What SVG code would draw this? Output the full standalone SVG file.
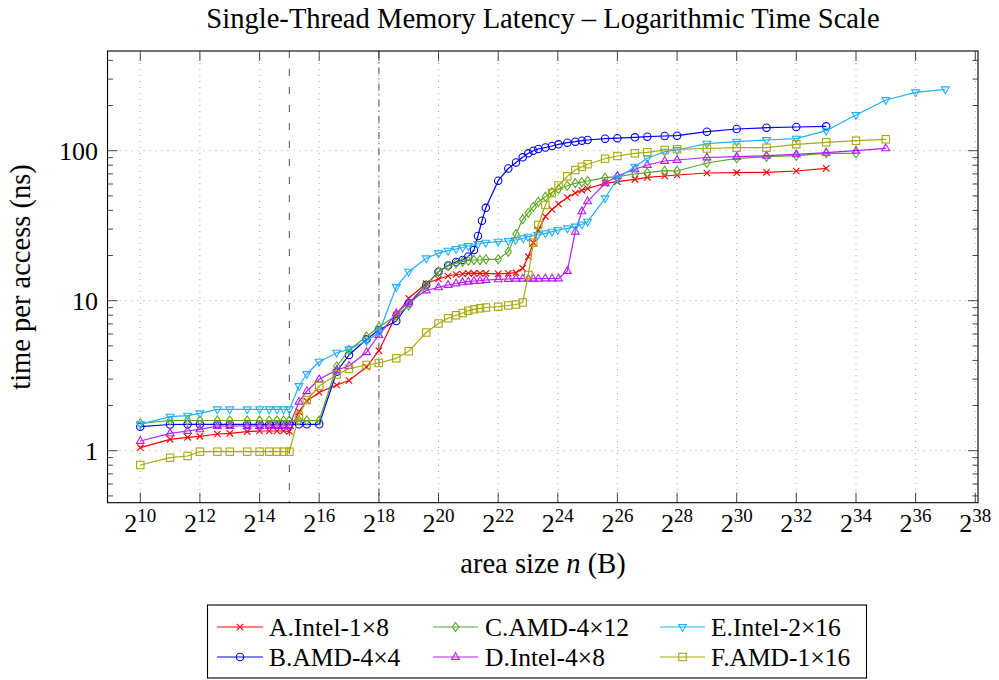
<svg xmlns="http://www.w3.org/2000/svg" width="999" height="680" viewBox="0 0 999 680" font-family="'Liberation Serif', 'Times New Roman', serif">
  <style>
    text { font-family: "Liberation Serif", "Times New Roman", serif; fill: #000; }
    .title { font-size: 28.6px; }
    .axlbl { font-size: 28.5px; }
    .leg { font-size: 25.5px; }
    .tick { font-size: 26px; }
    .grid { stroke: #9a9a9a; stroke-width: 0.9; stroke-dasharray: 1 5; fill: none; }
    .tk { stroke: #333; stroke-width: 0.9; fill: none; }
    .frame { stroke: #000; stroke-width: 1.1; fill: none; }
    .vdash { stroke: #6e6e6e; stroke-width: 1.2; stroke-dasharray: 7 11; fill: none; }
    .vdashdot { stroke: #6e6e6e; stroke-width: 1.2; stroke-dasharray: 7 4 1.2 4; fill: none; }
    .s { fill: none; stroke-width: 1.2; stroke-linejoin: round; }
    .cA { stroke: #ff0000; } .cB { stroke: #0000ff; } .cC { stroke: #58a81e; }
    .cD { stroke: #b41eff; } .cE { stroke: #1fb0ff; } .cF { stroke: #aaa80a; }
    .mk { fill: none; stroke-width: 1.1; }
    #sA { marker-start: url(#mA); marker-mid: url(#mA); marker-end: url(#mA); }
    #sB { marker-start: url(#mB); marker-mid: url(#mB); marker-end: url(#mB); }
    #sC { marker-start: url(#mC); marker-mid: url(#mC); marker-end: url(#mC); }
    #sD { marker-start: url(#mD); marker-mid: url(#mD); marker-end: url(#mD); }
    #sE { marker-start: url(#mE); marker-mid: url(#mE); marker-end: url(#mE); }
    #sF { marker-start: url(#mF); marker-mid: url(#mF); marker-end: url(#mF); }
  </style>
  <defs>
    <marker id="mA" markerUnits="userSpaceOnUse" markerWidth="10" markerHeight="10" refX="0" refY="0" orient="0" overflow="visible">
      <path class="mk" stroke="#ff0000" d="M-3.2,-3.2L3.2,3.2M-3.2,3.2L3.2,-3.2"/>
    </marker>
    <marker id="mB" markerUnits="userSpaceOnUse" markerWidth="10" markerHeight="10" refX="0" refY="0" orient="0" overflow="visible">
      <circle class="mk" stroke="#0000ff" r="3.7"/>
    </marker>
    <marker id="mC" markerUnits="userSpaceOnUse" markerWidth="10" markerHeight="10" refX="0" refY="0" orient="0" overflow="visible">
      <path class="mk" stroke="#58a81e" d="M0,-4.5L3.2,0L0,4.5L-3.2,0Z"/>
    </marker>
    <marker id="mD" markerUnits="userSpaceOnUse" markerWidth="10" markerHeight="10" refX="0" refY="0" orient="0" overflow="visible">
      <path class="mk" stroke="#b41eff" d="M0,-4.4L3.9,2.4L-3.9,2.4Z"/>
    </marker>
    <marker id="mE" markerUnits="userSpaceOnUse" markerWidth="10" markerHeight="10" refX="0" refY="0" orient="0" overflow="visible">
      <path class="mk" stroke="#1fb0ff" d="M0,4.4L3.9,-2.4L-3.9,-2.4Z"/>
    </marker>
    <marker id="mF" markerUnits="userSpaceOnUse" markerWidth="10" markerHeight="10" refX="0" refY="0" orient="0" overflow="visible">
      <rect class="mk" stroke="#aaa80a" x="-3.7" y="-3.7" width="7.4" height="7.4"/>
    </marker>
  </defs>

  <rect width="999" height="680" fill="#fff"/>

  <!-- title -->
  <text id="title" class="title" x="543" y="28" text-anchor="middle">Single-Thread Memory Latency – Logarithmic Time Scale</text>

  <!-- grid -->
  <g id="grid">
    <path class="grid" d="M140.3,51V502.7M199.9,51V502.7M259.6,51V502.7M319.2,51V502.7M378.9,51V502.7M438.5,51V502.7M498.2,51V502.7M557.8,51V502.7M617.4,51V502.7M677.1,51V502.7M736.7,51V502.7M796.3,51V502.7M856,51V502.7M915.6,51V502.7M975.3,51V502.7"/>
    <path class="grid" d="M107.5,450.7H978M107.5,300.7H978M107.5,150.7H978"/>
  </g>

  <!-- cache boundaries -->
  <g id="boundaries">
    <line class="vdash" x1="289.4" y1="51" x2="289.4" y2="502.7"/>
    <line class="vdashdot" x1="378.9" y1="51" x2="378.9" y2="502.7"/>
  </g>

  <!-- axis frame and ticks -->
  <g id="axes">
    <rect class="frame" x="107.5" y="51" width="870.5" height="451.7"/>
    <path class="tk" d="M140.3,502.7v-10M199.9,502.7v-10M259.6,502.7v-10M319.2,502.7v-10M378.9,502.7v-10M438.5,502.7v-10M498.2,502.7v-10M557.8,502.7v-10M617.4,502.7v-10M677.1,502.7v-10M736.7,502.7v-10M796.3,502.7v-10M856,502.7v-10M915.6,502.7v-10M975.3,502.7v-10"/>
    <path class="tk" d="M140.3,51v10M199.9,51v10M259.6,51v10M319.2,51v10M378.9,51v10M438.5,51v10M498.2,51v10M557.8,51v10M617.4,51v10M677.1,51v10M736.7,51v10M796.3,51v10M856,51v10M915.6,51v10M975.3,51v10"/>
    <path class="tk" d="M107.5,450.7h10M107.5,300.7h10M107.5,150.7h10M978,450.7h-10M978,300.7h-10M978,150.7h-10"/>
    <path class="tk" d="M107.5,495.9h5.5M107.5,484h5.5M107.5,473.9h5.5M107.5,465.2h5.5M107.5,457.6h5.5M107.5,405.5h5.5M107.5,379.1h5.5M107.5,360.4h5.5M107.5,345.9h5.5M107.5,334h5.5M107.5,323.9h5.5M107.5,315.2h5.5M107.5,307.6h5.5M107.5,255.5h5.5M107.5,229.1h5.5M107.5,210.4h5.5M107.5,195.9h5.5M107.5,184h5.5M107.5,173.9h5.5M107.5,165.2h5.5M107.5,157.6h5.5M107.5,105.5h5.5M107.5,79.1h5.5M107.5,60.4h5.5"/>
    <path class="tk" d="M978,495.9h-5.5M978,484h-5.5M978,473.9h-5.5M978,465.2h-5.5M978,457.6h-5.5M978,405.5h-5.5M978,379.1h-5.5M978,360.4h-5.5M978,345.9h-5.5M978,334h-5.5M978,323.9h-5.5M978,315.2h-5.5M978,307.6h-5.5M978,255.5h-5.5M978,229.1h-5.5M978,210.4h-5.5M978,195.9h-5.5M978,184h-5.5M978,173.9h-5.5M978,165.2h-5.5M978,157.6h-5.5M978,105.5h-5.5M978,79.1h-5.5M978,60.4h-5.5"/>
  </g>

  <!-- tick labels -->
  <g id="xticklabels" class="tick" text-anchor="middle">
    <text x="140.3" y="532">2<tspan dy="-10.5" font-size="19">10</tspan></text>
    <text x="199.9" y="532">2<tspan dy="-10.5" font-size="19">12</tspan></text>
    <text x="259.6" y="532">2<tspan dy="-10.5" font-size="19">14</tspan></text>
    <text x="319.2" y="532">2<tspan dy="-10.5" font-size="19">16</tspan></text>
    <text x="378.9" y="532">2<tspan dy="-10.5" font-size="19">18</tspan></text>
    <text x="438.5" y="532">2<tspan dy="-10.5" font-size="19">20</tspan></text>
    <text x="498.2" y="532">2<tspan dy="-10.5" font-size="19">22</tspan></text>
    <text x="557.8" y="532">2<tspan dy="-10.5" font-size="19">24</tspan></text>
    <text x="617.4" y="532">2<tspan dy="-10.5" font-size="19">26</tspan></text>
    <text x="677.1" y="532">2<tspan dy="-10.5" font-size="19">28</tspan></text>
    <text x="736.7" y="532">2<tspan dy="-10.5" font-size="19">30</tspan></text>
    <text x="796.3" y="532">2<tspan dy="-10.5" font-size="19">32</tspan></text>
    <text x="856" y="532">2<tspan dy="-10.5" font-size="19">34</tspan></text>
    <text x="915.6" y="532">2<tspan dy="-10.5" font-size="19">36</tspan></text>
    <text x="975.3" y="532">2<tspan dy="-10.5" font-size="19">38</tspan></text>
  </g>
  <g id="yticklabels" class="tick" text-anchor="end">
    <text x="98" y="459.5">1</text>
    <text x="98" y="309.5">10</text>
    <text x="98" y="159.5">100</text>
  </g>

  <!-- axis labels -->
  <text id="xlabel" class="axlbl" x="543" y="573" text-anchor="middle">area size <tspan font-style="italic">n</tspan> (B)</text>
  <text id="ylabel" class="axlbl" transform="translate(30,277) rotate(-90)" text-anchor="middle">time per access (ns)</text>

  <!-- measured series -->
  <g id="connectors">
    <polyline id="sA" class="s cA" points="140.3,447.7 170.1,439.3 187.6,437.3 199.9,436.3 217.4,434 229.8,433.3 247.2,431.7 259.6,431 269.2,431 277,431 283.6,431 289.4,431.5 299,411.7 306.8,401 319.2,392.5 336.7,385 349,380.5 366.5,367 378.9,350.7 396.3,315 408.7,298.3 426.2,283.5 438.5,279 448.1,276 456,274.5 462.6,274 468.3,273.3 474,273.3 480,273.3 486,273.3 498.2,273.8 508.3,273.3 516,272.7 522.7,268.3 528.3,256.7 533.3,242.7 538.3,230 545.4,216.5 552,209.5 558.5,204 567.3,197.5 575.3,193 581.9,190.3 587.6,188.5 605.1,183.3 617.4,181.7 634.9,179.3 647.3,177.3 664.7,176 677.1,175 706.9,173 736.7,172.7 766.5,172.3 796.3,171 826.2,168.3"/>
    <polyline id="sB" class="s cB" points="140.3,426.7 170.1,424.5 187.6,424.3 199.9,424.3 217.4,424.3 229.8,424.3 247.2,424.3 259.6,424.3 269.2,424.3 277,424.3 283.6,424.3 289.4,424.3 299,424.3 306.8,424.3 319.2,424.3 336.7,371.7 349,355 366.5,339.3 378.9,330 396.3,321 408.7,303.3 426.2,285 438.5,271.7 448.1,265.5 456,262 462.6,260 468.3,256.5 474,250 477.9,236 482,220.7 485.8,207.8 498.2,180.7 508.3,168.5 516,162.5 522.7,157.3 528.3,153.3 533.3,150.7 538.3,149 545.4,147.5 552,146 558.5,144.3 567.3,142.7 575.3,141.7 581.9,140.7 587.6,140 605.1,138.7 617.4,138.2 634.9,137.3 647.3,136.7 664.7,136 677.1,135.7 706.9,131.7 736.7,129 766.5,127.7 796.3,127 826.2,126.3"/>
    <polyline id="sC" class="s cC" points="140.3,423.3 170.1,420.5 187.6,420.5 199.9,420.5 217.4,420.5 229.8,420.5 247.2,420.5 259.6,420.5 269.2,420.5 277,420.5 283.6,420.5 289.4,420.5 299,420.5 306.8,420.5 319.2,420.5 336.7,366.5 349,350 366.5,336.5 378.9,327 396.3,315.5 408.7,305.5 426.2,285 438.5,271.7 448.1,266 456,263.3 462.6,261.7 468.3,260.7 474,260 480,260 486,259.3 498.2,259.3 508.3,251.7 516,234 522.7,219.3 528.3,212.7 533.3,206.7 538.3,201.7 545.4,196.7 552,192.3 558.5,189 567.3,185.8 575.3,183.3 581.9,182.2 587.6,181 605.1,177.7 617.4,176.7 634.9,174 647.3,172.7 664.7,170.7 677.1,171 706.9,163 736.7,158.3 766.5,156.7 796.3,155.7 826.2,153.3 856,153.3"/>
    <polyline id="sD" class="s cD" points="140.3,441 170.1,433.3 187.6,431 199.9,429.3 217.4,426 229.8,426 247.2,426 259.6,426 269.2,426 277,426 283.6,426 289.4,426 299,401.7 306.8,391.2 319.2,379.3 336.7,370 349,366 366.5,352.2 378.9,335 396.3,313.3 408.7,302.2 426.2,290.5 438.5,287.3 448.1,285 456,283.5 462.6,282.3 468.3,281.7 474,281 480,280.7 486,280 498.2,279.3 508.3,279 516,278.7 522.7,278.7 528.3,278.7 533.3,278.7 538.3,278.7 545.4,278.5 552,278.5 558.5,278.5 567.3,271 575.3,231.7 581.9,211.3 587.6,201.3 605.1,183.3 617.4,176 634.9,169.3 647.3,165 664.7,161 677.1,160 706.9,157.5 736.7,156.7 766.5,155.7 796.3,154.3 826.2,152.7 856,150.7 885.8,148.3"/>
    <polyline id="sE" class="s cE" points="140.3,424.3 170.1,416.7 187.6,415.7 199.9,413.3 217.4,409.3 229.8,409.3 247.2,409.3 259.6,409.3 269.2,409.3 277,409.3 283.6,409.3 289.4,409.3 299,386 306.8,374 319.2,361.7 336.7,352.7 349,349.3 366.5,341 378.9,332.5 396.3,287 408.7,271.7 426.2,258.3 438.5,253.3 448.1,250.7 456,249 462.6,247.5 468.3,246 477.9,244 485.8,242.7 498.2,241.7 508.3,241 515.6,240 523.3,238.3 528,236.7 537.6,235 545.4,233.3 552,231.7 557.8,230 567.4,228.3 575.3,226.5 581.9,224.5 587.6,221.7 605.1,198.3 617.4,178.3 634.9,166.7 647.3,158.3 664.7,151.7 677.1,150 706.9,143.7 736.7,141.7 766.5,140 796.3,138.7 826.2,130.7 856,115 885.8,100 915.6,92.3 945.4,89.3"/>
    <polyline id="sF" class="s cF" points="140.3,465 170.1,457.7 187.6,456 199.9,451.7 217.4,451.7 229.8,451.7 247.2,451.7 259.6,451.7 269.2,451.7 277,451.7 283.6,451.7 289.4,451.7 299,415.5 306.8,400 319.2,386 336.7,374.5 349,368.7 366.5,365 378.9,363 396.3,358.3 408.7,351.3 426.2,332.5 438.5,323.5 448.1,318.3 456,315.3 462.6,313 468.3,310.7 474,309.3 480,308.3 486,307.5 498.2,306.7 508.3,305.5 516,304.5 522.7,302.5 528.3,275 533.3,242.7 538.3,225 545.4,205 552,193 558.5,185.5 567.3,176.3 575.3,170 581.9,166.7 587.6,164.2 605.1,158.7 617.4,156 634.9,153.3 647.3,152.3 664.7,150 677.1,149.3 706.9,148.5 736.7,147.7 766.5,147.7 796.3,144.3 826.2,142.3 856,140.7 885.8,139.3"/>
  </g>

  <!-- legend -->
  <g id="legend">
    <rect x="207.5" y="605" width="659" height="73" fill="#fff" stroke="#000" stroke-width="1.1"/>
    <g id="leg-A">
      <line class="s cA" x1="217" y1="627" x2="263" y2="627"/>
      <path class="mk" stroke="#ff0000" d="M236.8,623.8L243.2,630.2M236.8,630.2L243.2,623.8"/>
      <text class="leg" x="269" y="635.5">A.Intel-1×8</text>
    </g>
    <g id="leg-B">
      <line class="s cB" x1="217" y1="657" x2="263" y2="657"/>
      <circle class="mk" stroke="#0000ff" cx="240" cy="657" r="3.7"/>
      <text class="leg" x="269" y="665.5">B.AMD-4×4</text>
    </g>
    <g id="leg-C">
      <line class="s cC" x1="433" y1="627" x2="478" y2="627"/>
      <path class="mk" stroke="#58a81e" d="M455.5,622.5L458.7,627L455.5,631.5L452.3,627Z"/>
      <text class="leg" x="485" y="635.5">C.AMD-4×12</text>
    </g>
    <g id="leg-D">
      <line class="s cD" x1="433" y1="657" x2="478" y2="657"/>
      <path class="mk" stroke="#b41eff" d="M455.5,652.6L459.4,659.4L451.6,659.4Z"/>
      <text class="leg" x="485" y="665.5">D.Intel-4×8</text>
    </g>
    <g id="leg-E">
      <line class="s cE" x1="660" y1="627" x2="705" y2="627"/>
      <path class="mk" stroke="#1fb0ff" d="M682.5,631.4L686.4,624.6L678.6,624.6Z"/>
      <text class="leg" x="711" y="635.5">E.Intel-2×16</text>
    </g>
    <g id="leg-F">
      <line class="s cF" x1="660" y1="657" x2="705" y2="657"/>
      <rect class="mk" stroke="#aaa80a" x="678.8" y="653.3" width="7.4" height="7.4"/>
      <text class="leg" x="711" y="665.5">F.AMD-1×16</text>
    </g>
  </g>
</svg>
